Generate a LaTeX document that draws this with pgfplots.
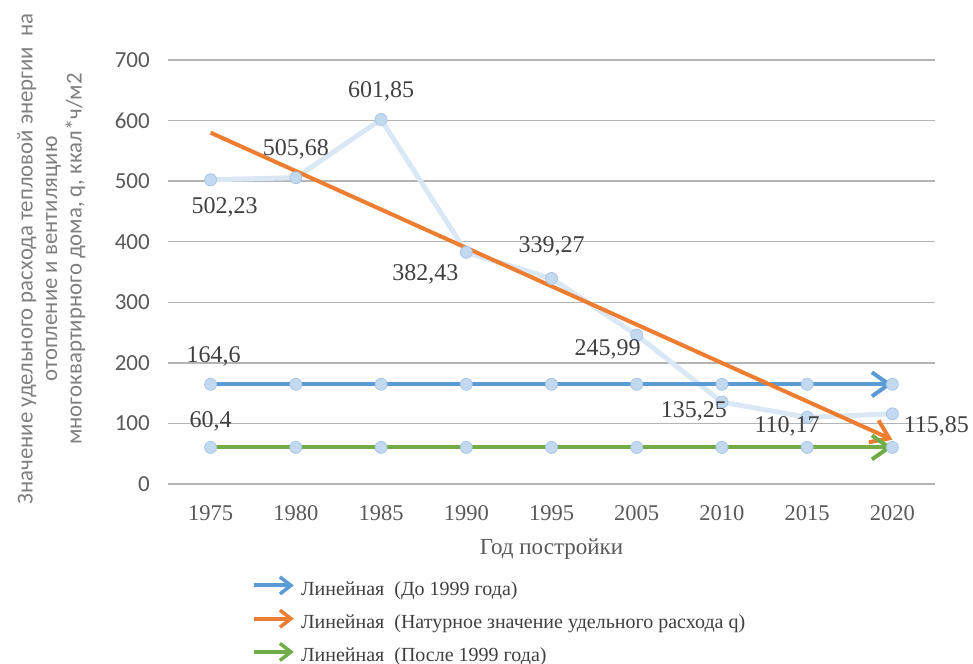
\documentclass[border=0pt]{standalone}
\usepackage{pgfplots}
\pgfplotsset{compat=1.18}
\usepackage{pgfplotstable}
\usetikzlibrary{arrows.meta}
\usepackage{fontspec}
\setmainfont{Liberation Serif}
\newfontfamily\carlito{Carlito}
\definecolor{tblue}{HTML}{5B9BD5}
\definecolor{torange}{HTML}{ED7D31}
\definecolor{tgreen}{HTML}{70AD47}
\definecolor{lblue}{HTML}{DAE7F5}
\definecolor{mblue}{HTML}{C3D9EF}
\definecolor{medge}{HTML}{A9C6E6}
\definecolor{gridc}{HTML}{B4B4B4}
\definecolor{txt}{HTML}{404040}
\definecolor{txt2}{HTML}{595959}
\definecolor{ylab}{HTML}{808080}

\pgfplotstableread{
x y
0 502.23
1 505.68
2 601.85
3 382.43
4 339.27
5 245.99
6 135.25
7 110.17
8 115.85
}\mainseries

\pgfplotstableread{
x y dx dy lab
0 502.23 14 -28 502,23
1 505.68 0 28 505,68
2 601.85 0 28 601,85
3 382.43 -41 -22 382,43
4 339.27 0 32 339,27
5 245.99 -29 -14 245,99
6 135.25 -28 -9 135,25
7 110.17 -20 -9 110,17
8 115.85 44 -13 115,85
0 164.6 3 28 164,6
0 60.4 0 26 60,4
}\labels

\tikzset{trendarrow/.style={-{Straight Barb[line width=4pt,length=17pt,width=24pt]}}}

\begin{document}
\begin{tikzpicture}
\useasboundingbox (0,0) rectangle (973pt,663pt);
\begin{axis}[
  at={(168pt,179pt)}, anchor=south west,
  scale only axis, width=767pt, height=424pt,
  xmin=-0.5, xmax=8.5, ymin=0, ymax=700,
  xtick={0,...,8},
  xticklabels={1975,1980,1985,1990,1995,2005,2010,2015,2020},
  ytick={0,100,...,700},
  ymajorgrids, major grid style={gridc, line width=1.5pt},
  axis line style={draw=none},
  major tick length=0pt,
  clip=false,
  /pgf/number format/assume math mode=true,
  yticklabel style={font=\carlito\fontsize{23}{23}\selectfont, text=txt2, anchor=east, inner sep=0pt, xshift=-18pt},
  xticklabel style={font=\fontsize{22.5}{22.5}\selectfont, text=txt2, anchor=north, inner sep=0pt, yshift=-21pt},
  xlabel={Год постройки},
  xlabel style={font=\fontsize{23}{23}\selectfont, text=txt2, at={(axis description cs:0.5,0)}, anchor=north, inner sep=0pt, yshift=-55pt},
  ylabel={Значение удельного расхода тепловой энергии~ на\\отопление и вентиляцию\\многоквартирного дома, q, ккал*ч/м2},
  ylabel style={font=\carlito\fontsize{22.8}{24.5}\selectfont, text=ylab, align=center, at={(axis description cs:-0.152,0.531)}, anchor=center, inner sep=0pt},
  legend style={at={(axis description cs:0.109,-0.2146)}, anchor=north west, draw=none, fill=none,
    font=\fontsize{20}{20}\selectfont, text=txt, inner sep=0pt, row sep=9pt, column sep=5pt,
    nodes={inner sep=0pt, text height=14pt, text depth=4pt}},
  legend cell align=left,
  legend image code/.code={\draw[#1, line width=4pt, -{Straight Barb[line width=3.5pt,length=11pt,width=17pt]}] (0pt,5pt) -- (40pt,5pt);},
]
% main series
\addplot[lblue, line width=5pt, line join=round, mark=*, mark size=6pt,
  mark options={fill=mblue, draw=medge, line width=0.8pt}, forget plot] table[x=x,y=y] {\mainseries};
% constant series markers
\addplot[only marks, mark=*, mark size=6pt, mark options={fill=mblue, draw=medge, line width=0.8pt}, forget plot]
  coordinates {(0,164.6) (1,164.6) (2,164.6) (3,164.6) (4,164.6) (5,164.6) (6,164.6) (7,164.6) (8,164.6)};
\addplot[only marks, mark=*, mark size=6pt, mark options={fill=mblue, draw=medge, line width=0.8pt}, forget plot]
  coordinates {(0,60.4) (1,60.4) (2,60.4) (3,60.4) (4,60.4) (5,60.4) (6,60.4) (7,60.4) (8,60.4)};
% trend lines
\addplot[tblue, line width=4pt, mark=none, trendarrow] coordinates {(0,164.6) (8,164.6)};
\addlegendentry{Линейная~ (До 1999 года)}
\addplot[torange, line width=4pt, mark=none, trendarrow] coordinates {(0,579.96) (8,73.06)};
\addlegendentry{Линейная~ (Натурное значение удельного расхода q)}
\addplot[tgreen, line width=4pt, mark=none, trendarrow] coordinates {(0,60.4) (8,60.4)};
\addlegendentry{Линейная~ (После 1999 года)}
% data labels
\addplot[draw=none, mark=none, forget plot, point meta=explicit symbolic, nodes near coords,
  visualization depends on={\thisrow{dx}\as\dx},
  visualization depends on={\thisrow{dy}\as\dy},
  nodes near coords style={anchor=center, inner sep=0pt, xshift=\dx pt, yshift=\dy pt,
    font=\fontsize{24}{24}\selectfont, text=txt}]
  table[x=x,y=y,meta=lab] {\labels};
\end{axis}
\end{tikzpicture}
\end{document}
